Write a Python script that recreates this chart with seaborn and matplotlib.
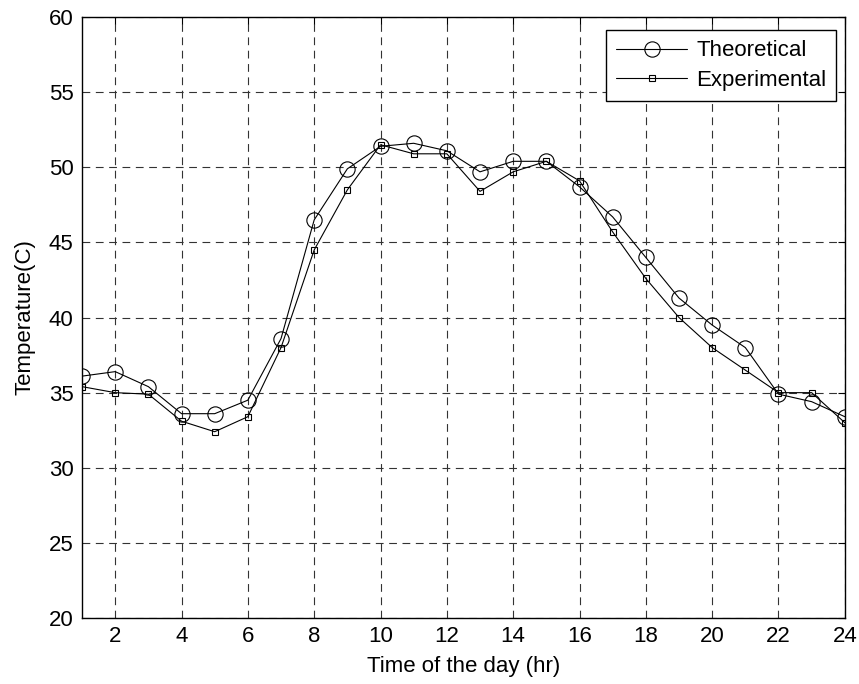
import numpy as np
import pandas as pd
import seaborn as sns
import matplotlib
matplotlib.use("Agg")
import matplotlib.pyplot as plt

hours = list(range(1, 25))
theoretical = [36.1, 36.4, 35.4, 33.6, 33.6, 34.5, 38.6, 46.5, 49.9, 51.4,
               51.6, 51.1, 49.7, 50.4, 50.4, 48.7, 46.7, 44.0, 41.3, 39.5,
               38.0, 34.9, 34.4, 33.4]
experimental = [35.4, 35.0, 34.9, 33.1, 32.4, 33.4, 38.0, 44.5, 48.5, 51.5,
                50.9, 50.9, 48.4, 49.7, 50.4, 49.1, 45.7, 42.6, 40.0, 38.0,
                36.5, 35.0, 35.0, 33.0]

df = pd.DataFrame({'hour': hours, 'Theoretical': theoretical,
                   'Experimental': experimental})

sns.set_style("white")
plt.rcParams['font.family'] = ['Liberation Sans', 'DejaVu Sans']
plt.rcParams['text.color'] = 'black'
plt.rcParams['axes.labelcolor'] = 'black'

fig = plt.figure(figsize=(8.59, 6.84), dpi=100)
ax = fig.add_axes([0.0955, 0.0965, 0.888, 0.8785])

sns.lineplot(data=df, x='hour', y='Theoretical', ax=ax, color='black',
             linewidth=0.8, marker='o', markersize=11, markerfacecolor='none',
             markeredgecolor='black', markeredgewidth=0.8, label='Theoretical')
sns.lineplot(data=df, x='hour', y='Experimental', ax=ax, color='black',
             linewidth=0.8, marker='s', markersize=4, markerfacecolor='none',
             markeredgecolor='black', markeredgewidth=0.8, label='Experimental')

ax.set_xlim(1, 24)
ax.set_ylim(20, 60)
ax.set_xticks(range(2, 25, 2))
ax.set_yticks(range(20, 61, 5))
ax.grid(True, color='#333333', linestyle=(0, (7, 5)), linewidth=0.8)
ax.tick_params(direction='in', length=5, width=0.8, labelsize=16,
               top=True, right=True, colors='black', pad=6)
for s in ax.spines.values():
    s.set_color('black')
    s.set_linewidth(1.0)

ax.set_xlabel('Time of the day (hr)', fontsize=16, labelpad=6, color='black')
ax.set_ylabel('Temperature(C)', fontsize=16, labelpad=10, color='black')

leg = ax.legend(loc='upper right', bbox_to_anchor=(0.989, 0.978),
                fontsize=16, frameon=True, fancybox=False,
                edgecolor='black', framealpha=1, handlelength=3.2,
                handletextpad=0.4, borderaxespad=0, labelspacing=0.4,
                borderpad=0.45)
leg.get_frame().set_linewidth(1.0)

fig.savefig('out.png', dpi=100)
